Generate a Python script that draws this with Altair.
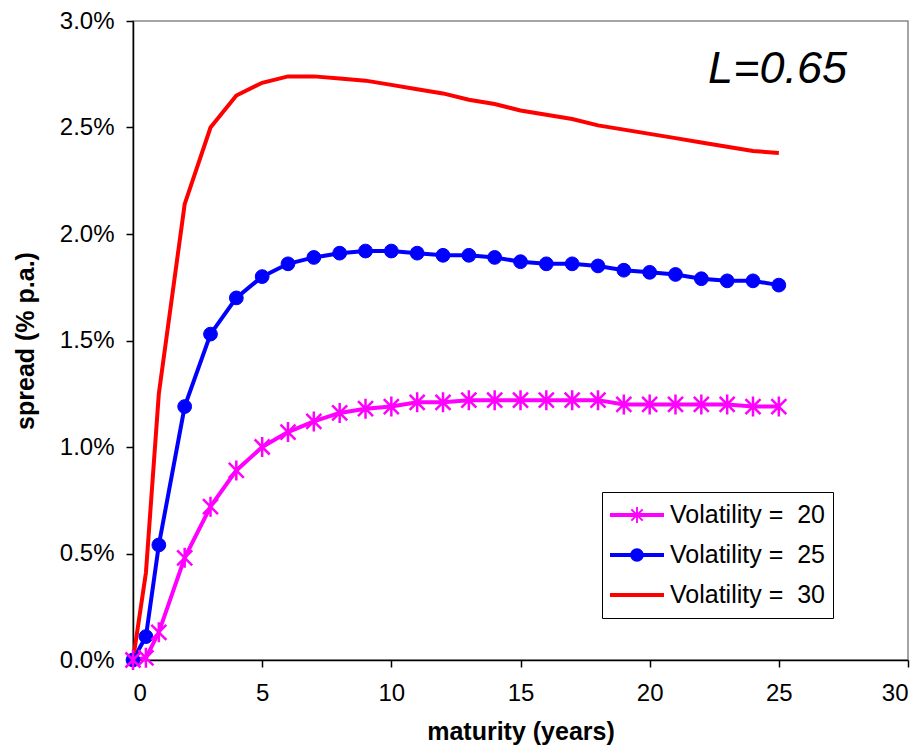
import altair as alt
import pandas as pd

maturity = [0, 0.5, 1, 2, 3, 4, 5, 6, 7, 8, 9, 10, 11, 12, 13, 14, 15, 16, 17,
            18, 19, 20, 21, 22, 23, 24, 25]
spread_20 = [0.0000, 0.0001, 0.0013, 0.0048, 0.0072, 0.0089, 0.0100, 0.0107, 0.0112,
             0.0116, 0.0118, 0.0119, 0.0121, 0.0121, 0.0122, 0.0122, 0.0122, 0.0122,
             0.0122, 0.0122, 0.0120, 0.0120, 0.0120, 0.0120, 0.0120, 0.0119, 0.0119]
spread_25 = [0.0000, 0.0011, 0.0054, 0.0119, 0.0153, 0.0170, 0.0180, 0.0186, 0.0189,
             0.0191, 0.0192, 0.0192, 0.0191, 0.0190, 0.0190, 0.0189, 0.0187, 0.0186,
             0.0186, 0.0185, 0.0183, 0.0182, 0.0181, 0.0179, 0.0178, 0.0178, 0.0176]
spread_30 = [0.0000, 0.0041, 0.0125, 0.0214, 0.0250, 0.0265, 0.0271, 0.0274, 0.0274,
             0.0273, 0.0272, 0.0270, 0.0268, 0.0266, 0.0263, 0.0261, 0.0258, 0.0256,
             0.0254, 0.0251, 0.0249, 0.0247, 0.0245, 0.0243, 0.0241, 0.0239, 0.0238]

series_names = ["Volatility = \u00a020", "Volatility = \u00a025", "Volatility = \u00a030"]
series_colors = ["#FF00FF", "#0000FF", "#FF0000"]
annotation = "L=0.65"

rows = []
for name, col, vals in zip(series_names, series_colors, [spread_20, spread_25, spread_30]):
    for m, v in zip(maturity, vals):
        rows.append({"maturity": m, "spread": v, "series": name, "col": col})
df = pd.DataFrame(rows)

FONT = "Liberation Sans"
STAR = "M0,-1V1M-0.75,-0.75L0.75,0.75M-0.75,0.75L0.75,-0.75"
LINE = "M-1,-0.075H1V0.075H-1Z"
STAR_FILLED = ("M-0.035,-0.3H0.035V0.3H-0.035Z"
               "M-0.235,-0.185L-0.185,-0.235L0.235,0.185L0.185,0.235Z"
               "M-0.235,0.185L0.185,-0.235L0.235,-0.185L-0.185,0.235Z")
CIRCLE = "M-0.25,0A0.25,0.25 0 1,1 0.25,0A0.25,0.25 0 1,1 -0.25,0Z"
legend_shapes = [LINE + STAR_FILLED, LINE + CIRCLE, LINE]

x_enc = alt.X("maturity:Q", title="maturity (years)",
              scale=alt.Scale(domain=[0, 30], nice=False),
              axis=alt.Axis(values=[0, 5, 10, 15, 20, 25, 30], format="d"))
y_enc = alt.Y("spread:Q", title="spread (% p.a.)",
              scale=alt.Scale(domain=[0, 0.03], nice=False),
              axis=alt.Axis(values=[0, 0.005, 0.01, 0.015, 0.02, 0.025, 0.03], format=".1%"))

base = alt.Chart(df)

lines = base.mark_line(strokeWidth=4).encode(
    x=x_enc, y=y_enc,
    color=alt.Color("col:N", scale=None),
    detail="series:N",
)

circles = base.transform_filter(alt.datum.series == series_names[1]).mark_point(
    shape="circle", filled=True, size=190, color="#0000FF", opacity=1,
    stroke="#0000FF", strokeWidth=1,
).encode(x=x_enc, y=y_enc)

stars = base.transform_filter(alt.datum.series == series_names[0]).mark_point(
    shape=STAR, filled=False, size=400, color="#FF00FF", opacity=1, strokeWidth=2.5,
).encode(x=x_enc, y=y_enc)

leg = alt.Legend(
    title=None, orient="none", legendX=469, legendY=471,
    labelFont=FONT, labelFontSize=25, labelColor="black", labelOffset=6,
    symbolSize=2916, symbolStrokeWidth=0, symbolOpacity=1, clipHeight=30, rowPadding=10,
    strokeColor="black", fillColor="white", padding=8, labelLimit=400,
)

legend_layer = base.transform_filter(alt.datum.maturity == 0).mark_point(
    filled=True, opacity=0, strokeWidth=0
).encode(
    x=x_enc, y=y_enc,
    color=alt.Color("series:N", scale=alt.Scale(domain=series_names, range=series_colors), legend=leg),
    shape=alt.Shape("series:N", scale=alt.Scale(domain=series_names, range=legend_shapes), legend=leg),
)

label = alt.Chart(pd.DataFrame({"t": [annotation]})).mark_text(
    font=FONT, fontSize=45, fontStyle="italic", align="right", baseline="alphabetic",
    color="black",
).encode(text="t:N", x=alt.value(714), y=alt.value(62))

chart = alt.layer(lines, circles, stars, legend_layer, label).properties(
    width=775, height=639,
    autosize=alt.AutoSizeParams(type="none"),
    padding={"left": 125, "top": 13, "right": 5, "bottom": 87},
).configure_view(
    stroke="#888888", strokeWidth=1.5,
).configure_axis(
    grid=False, domainColor="black", domainWidth=1.5, tickColor="black", tickWidth=1.5,
    tickSize=7, labelFont=FONT, labelFontSize=24, labelColor="black",
    titleFont=FONT, titleFontSize=25, titleFontWeight="bold", titleColor="black",
).configure_axisX(labelPadding=14, titlePadding=14).configure_axisY(labelPadding=12, titlePadding=21)

chart.save("out.html", embed_options={"renderer": "svg", "actions": False})
